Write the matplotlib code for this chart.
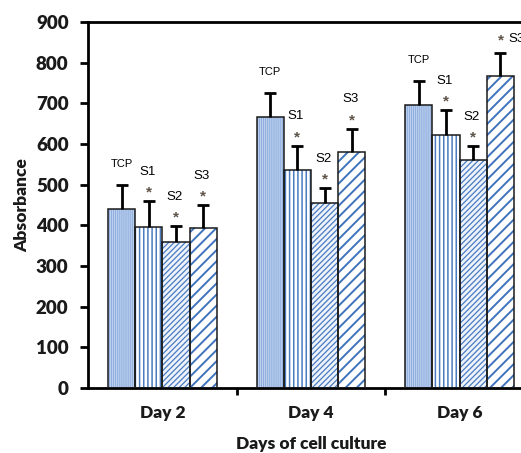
import numpy as np
import matplotlib.pyplot as plt

days = ["Day 2", "Day 4", "Day 6"]
groups = ["TCP", "S1", "S2", "S3"]

# absorbance per group, one value per day
tcp = [440, 667, 697]
s1 = [396, 536, 622]
s2 = [360, 455, 560]
s3 = [393, 581, 767]

tcp_err = [60, 59, 59]
s1_err = [64, 60, 62]
s2_err = [38, 37, 35]
s3_err = [57, 57, 56]

# marked significant vs TCP
stars = {"S1": [True, True, True], "S2": [True, True, True], "S3": [True, True, True]}

values = [tcp, s1, s2, s3]
errors = [tcp_err, s1_err, s2_err, s3_err]

# look of each group: face, hatch, hatch colour, hatch linewidth
styles = [
    ("#bcd0ee", "||||||||", "#86a8dc", 0.6),
    ("white", "||||", "#4a7cc0", 1.1),
    ("#eef3fb", "//////", "#4a7cc0", 0.9),
    ("white", "///", "#3f73bb", 1.4),
]

fig = plt.figure(figsize=(5.21, 4.53), dpi=100)
ax = fig.add_axes([88 / 521, 65 / 453, (534 - 88) / 521, (388 - 22) / 453])

x = np.arange(len(days)) + 0.5
width = 0.183
offsets = (np.arange(len(groups)) - 1.5) * width

star_kw = dict(textcoords="offset points", ha="center", va="center", fontsize=11,
               fontweight="bold", color="#5e5348", family="Liberation Sans")
lab_kw = dict(textcoords="offset points", va="center", family="Liberation Sans")

for k, (vals, errs) in enumerate(zip(values, errors)):
    face, hatch, hcol, hlw = styles[k]
    pos = x + offsets[k]
    with plt.rc_context({"hatch.linewidth": hlw}):
        bars = ax.bar(pos, vals, width, color=face, edgecolor=hcol, hatch=hatch, linewidth=0, zorder=2)
        for b in bars:
            if hasattr(b, "set_hatch_linewidth"):
                b.set_hatch_linewidth(hlw)
    ax.bar(pos, vals, width, fill=False, edgecolor="#1a1a1a", linewidth=1.1, zorder=3)
    eb = ax.errorbar(pos, vals, yerr=[np.zeros(len(vals)), errs], fmt="none", ecolor="black",
                     elinewidth=2, capsize=4, capthick=2, zorder=4)
    eb[1][0].set_visible(False)  # no cap at the bar top

    name = groups[k]
    for i in range(len(days)):
        top = vals[i] + errs[i]
        starred = name in stars and stars[name][i]
        if name == "S3" and i == 2:
            ax.annotate("*", (pos[i], top), xytext=(0, 9), **star_kw)
            ax.annotate(name, (pos[i], top), xytext=(6, 10), ha="left", fontsize=9.5, **lab_kw)
            continue
        if starred:
            ax.annotate("*", (pos[i], top), xytext=(0, 6), **star_kw)
            ax.annotate(name, (pos[i], top), xytext=(-1, 21), ha="center", fontsize=9.5, **lab_kw)
        else:
            ax.annotate(name, (pos[i], top), xytext=(0, 15), ha="center", fontsize=8, **lab_kw)

ax.set_xlim(0, 3)
ax.set_ylim(0, 900)
ax.set_yticks(range(0, 901, 100))
ax.set_xticks(x)
ax.set_xticklabels(days)
ax.set_xticks([1, 2], minor=True)
ax.tick_params(axis="x", which="major", length=0, pad=12)
ax.tick_params(axis="x", which="minor", length=5, width=2, direction="out")
ax.tick_params(axis="y", length=6, width=2, direction="out", pad=8)

for lab in ax.get_xticklabels():
    lab.set_fontfamily("Lato")
    lab.set_fontweight("heavy")
    lab.set_fontsize(12.5)
    lab.set_color("#1a1a1a")
for lab in ax.get_yticklabels():
    lab.set_fontfamily("Lato")
    lab.set_fontweight("heavy")
    lab.set_fontsize(13.5)
    lab.set_color("#1a1a1a")

for side in ["left", "bottom", "top", "right"]:
    ax.spines[side].set_linewidth(2)

ax.set_xlabel("Days of cell culture", fontsize=12.5, fontweight="heavy", family="Lato",
              labelpad=11, color="#1a1a1a")
ax.set_ylabel("Absorbance", fontsize=12.5, fontweight="heavy", family="Lato",
              labelpad=4, color="#1a1a1a")

fig.savefig("out.png", dpi=100)
